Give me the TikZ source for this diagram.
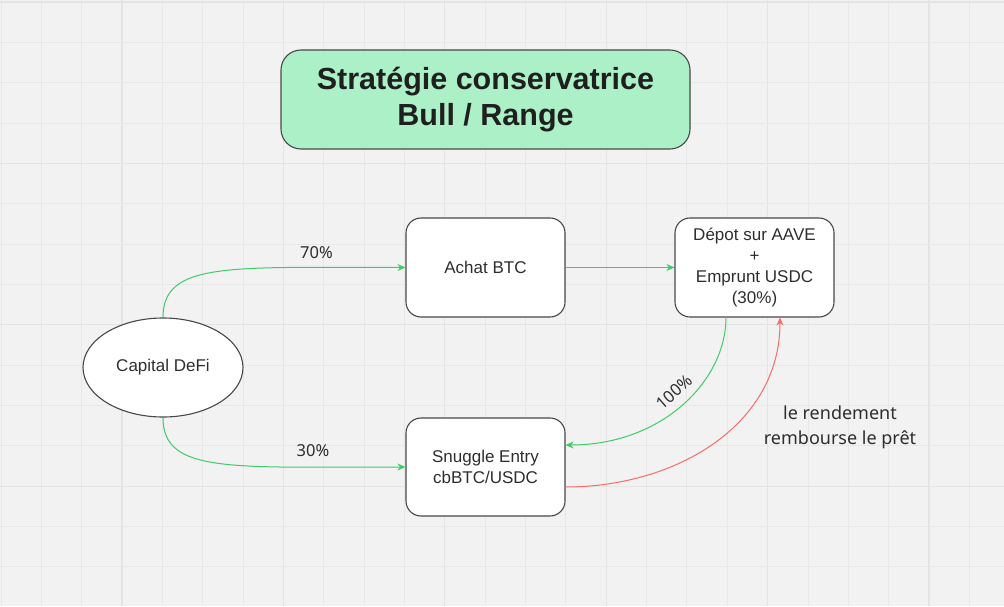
\documentclass[tikz,border=0pt]{standalone}
\usepackage{fontspec}
\setmainfont{Liberation Sans}
\newfontfamily\lblfont{Noto Sans}
\usetikzlibrary{arrows.meta,shapes.geometric}
\definecolor{bgc}{HTML}{F2F2F2}
\definecolor{gridminor}{HTML}{E8E8E8}
\definecolor{gridmajor}{HTML}{E4E4E4}
\definecolor{titlefill}{HTML}{ABF0C7}
\definecolor{boxline}{HTML}{484848}
\definecolor{txt}{HTML}{2E2E2E}
\definecolor{greenline}{HTML}{3FCB69}
\definecolor{redline}{HTML}{F86B6B}
\tikzset{
  box/.style={draw=boxline, line width=1.1pt, fill=white, rounded corners=15pt,
    minimum width=159pt, minimum height=99pt, align=center, text=txt,
    font=\fontsize{17}{20.7}\selectfont, inner sep=0pt},
  titlebox/.style={draw=boxline, line width=1.1pt, fill=titlefill, rounded corners=20pt,
    minimum width=409pt, minimum height=99pt, align=center, text=black!88,
    font=\bfseries\fontsize{30.5}{36.5}\selectfont, inner sep=0pt},
  capell/.style={draw=boxline, line width=1.1pt, fill=white, ellipse,
    minimum width=160pt, minimum height=99pt, text=txt, inner sep=0pt,
    font=\fontsize{17}{20}\selectfont},
  lbl/.style={text=txt, font=\lblfont\fontsize{16.5}{25}\selectfont, align=center, inner sep=0pt},
  gflow/.style={draw=greenline, line width=1pt, -{Stealth[length=8pt,width=7pt]}},
  rflow/.style={draw=redline, line width=1pt, -{Stealth[length=8pt,width=7pt]}},
}
\begin{document}
\begin{tikzpicture}[x=1pt,y=1pt]
\useasboundingbox (0,0) rectangle (1004,606);
\fill[bgc] (0,0) rectangle (1004,606);
% grid
\foreach \k in {0,...,25}{
  \pgfmathsetmacro{\gx}{1+40.35*\k}
  \pgfmathtruncatemacro{\m}{mod(\k,4)}
  \ifnum\m=3
    \draw[gridmajor, line width=1.2pt] (\gx,0) -- (\gx,606);
  \else
    \draw[gridminor, line width=1pt] (\gx,0) -- (\gx,606);
  \fi
}
\foreach \k in {0,...,15}{
  \pgfmathsetmacro{\gy}{604-40.35*\k}
  \pgfmathtruncatemacro{\m}{mod(\k,4)}
  \ifnum\m=0
    \draw[gridmajor, line width=1.2pt] (0,\gy) -- (1004,\gy);
  \else
    \draw[gridminor, line width=1pt] (0,\gy) -- (1004,\gy);
  \fi
}
% nodes
\node[titlebox] (title) at (485.5,506.5) {Stratégie conservatrice\\Bull / Range};
\node[box] (achat) at (485.5,338.5) {Achat BTC};
\node[box] (depot) at (754.5,338.5) {Dépot sur AAVE\\+\\Emprunt USDC\\(30\%)};
\node[box, minimum height=98pt] (snug) at (485.5,139) {Snuggle Entry\\cbBTC/USDC};
\node[capell] (cap) at (163,238.5) {Capital DeFi};
% connectors
\draw[gflow] (cap.north) to[out=90,in=180,out distance=56pt,in distance=176pt] (achat.west);
\draw[gflow] (cap.south) to[out=-90,in=180,out distance=56pt,in distance=176pt] (snug.west);
\draw[gflow] (achat.east) -- (depot.west);
\coordinate (dbl) at ([xshift=-28.5pt]depot.south);
\coordinate (dbr) at ([xshift=25.5pt]depot.south);
\coordinate (sr1) at ([yshift=22pt]snug.east);
\coordinate (sr2) at ([yshift=-20pt]snug.east);
\draw[gflow] (dbl) to[out=-90,in=0,out distance=62pt,in distance=98pt] (sr1);
\draw[rflow] (sr2) to[out=0,in=-90,out distance=110pt,in distance=108pt] (dbr);
% labels
\node[lbl] (l70) at (316.5,353) {70\%};
\node[lbl] (l30) at (313,155) {30\%};
\node[lbl, rotate=41] (l100) at (674,214) {100\%};
\node[lbl, font=\lblfont\fontsize{18}{25}\selectfont] (lrend) at (840,179) {le rendement\\rembourse le prêt};
\end{tikzpicture}
\end{document}
